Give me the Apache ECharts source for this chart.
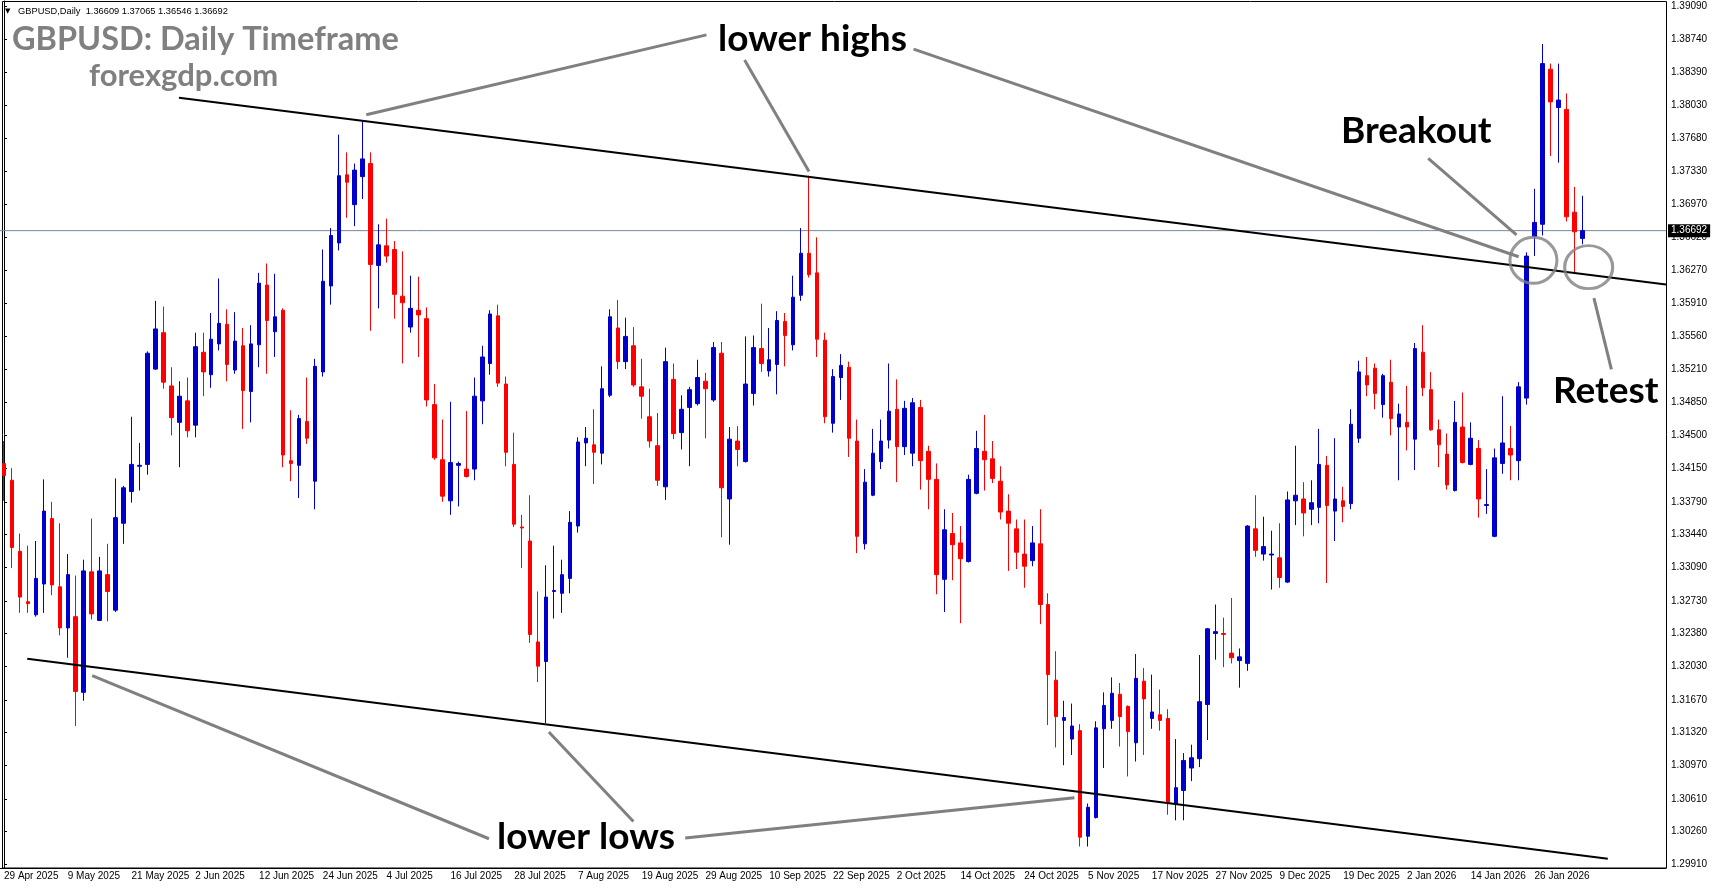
<!DOCTYPE html>
<html>
<head>
<meta charset="utf-8">
<title>GBPUSD Daily</title>
<script src="https://cdn.jsdelivr.net/npm/echarts@6.0.0/dist/echarts.min.js"></script>
<style>
  html, body { margin: 0; padding: 0; background: #fff; }
  #chart { width: 1713px; height: 888px; }
</style>
</head>
<body>
<div id="chart"></div>
<script>
// daily bars, 29 Apr 2025 .. 3 Feb 2026
const opens = [
  1.3420, 1.3402, 1.3326, 1.3272, 1.3258, 1.3291, 1.3361, 1.3288, 1.3244, 1.3256,
  1.3175, 1.3304, 1.3252, 1.3301, 1.3263, 1.3356, 1.3390, 1.3417, 1.3419, 1.3521,
  1.3560, 1.3503, 1.3464, 1.3487, 1.3461, 1.3539, 1.3515, 1.3548, 1.3569, 1.3520,
  1.3546, 1.3497, 1.3547, 1.3611, 1.3561, 1.3584, 1.3423, 1.3418, 1.3465, 1.3401,
  1.3518, 1.3610, 1.3656, 1.3729, 1.3697, 1.3727, 1.3741, 1.3632, 1.3653, 1.3649,
  1.3599, 1.3566, 1.3584, 1.3575, 1.3483, 1.3424, 1.3380, 1.3418, 1.3414, 1.3414,
  1.3487, 1.3527, 1.3578, 1.3505, 1.3419, 1.3352, 1.3337, 1.3229, 1.3208, 1.3283,
  1.3281, 1.3297, 1.3353, 1.3442, 1.3440, 1.3431, 1.3493, 1.3565, 1.3529, 1.3546,
  1.3502, 1.3470, 1.3439, 1.3395, 1.3510, 1.3453, 1.3480, 1.3484, 1.3508, 1.3488,
  1.3538, 1.3382, 1.3444, 1.3422, 1.3495, 1.3543, 1.3519, 1.3526, 1.3572, 1.3547,
  1.3600, 1.3645, 1.3624, 1.3552, 1.3463, 1.3512, 1.3523, 1.3444, 1.3334, 1.3386,
  1.3422, 1.3445, 1.3478, 1.3438, 1.3431, 1.3480, 1.3433, 1.3403, 1.3296, 1.3345,
  1.3335, 1.3315, 1.3388, 1.3433, 1.3425, 1.3401, 1.3369, 1.3350, 1.3323, 1.3316,
  1.3334, 1.3269, 1.3188, 1.3145, 1.3125, 1.3134, 1.3021, 1.3041, 1.3136, 1.3145,
  1.3173, 1.3160, 1.3121, 1.3187, 1.3147, 1.3151, 1.3147, 1.3056, 1.3070, 1.3094,
  1.3104, 1.3162, 1.3238, 1.3238, 1.3217, 1.3209, 1.3206, 1.3350, 1.3323, 1.3322,
  1.3319, 1.3293, 1.3380, 1.3382, 1.3371, 1.3373, 1.3418, 1.3369, 1.3380, 1.3377,
  1.3447, 1.3514, 1.3522, 1.3483, 1.3507, 1.3459, 1.3464, 1.3446, 1.3539, 1.3499,
  1.3456, 1.3430, 1.3391, 1.3459, 1.3419, 1.3436, 1.3375, 1.3342, 1.3420, 1.3436,
  1.3423, 1.3490, 1.3663, 1.3676, 1.3842, 1.3801, 1.3799, 1.3689, 1.36609
];
const highs = [
  1.3444, 1.3415, 1.3345, 1.3332, 1.3337, 1.3403, 1.3379, 1.3356, 1.3323, 1.3300,
  1.3317, 1.3361, 1.3320, 1.3334, 1.3404, 1.3396, 1.3470, 1.3442, 1.3540, 1.3594,
  1.3588, 1.3523, 1.3508, 1.3512, 1.3560, 1.3560, 1.3581, 1.3618, 1.3585, 1.3582,
  1.3565, 1.3568, 1.3624, 1.3634, 1.3623, 1.3586, 1.3477, 1.3472, 1.3512, 1.3532,
  1.3649, 1.3672, 1.3772, 1.3753, 1.3741, 1.3787, 1.3753, 1.3676, 1.3682, 1.3658,
  1.3647, 1.3621, 1.3620, 1.3587, 1.3505, 1.3467, 1.3486, 1.3422, 1.3476, 1.3512,
  1.3546, 1.3584, 1.3590, 1.3513, 1.3453, 1.3365, 1.3386, 1.3283, 1.3311, 1.3332,
  1.3317, 1.3369, 1.3448, 1.3459, 1.3478, 1.3524, 1.3585, 1.3595, 1.3576, 1.3566,
  1.3532, 1.3500, 1.3474, 1.3544, 1.3527, 1.3493, 1.3502, 1.3531, 1.3517, 1.3550,
  1.3550, 1.3459, 1.3460, 1.3556, 1.3557, 1.3591, 1.3565, 1.3583, 1.3581, 1.3621,
  1.3672, 1.3728, 1.3662, 1.3560, 1.3521, 1.3537, 1.3529, 1.3467, 1.3414, 1.3457,
  1.3467, 1.3527, 1.3510, 1.3487, 1.3490, 1.3488, 1.3439, 1.3420, 1.3371, 1.3367,
  1.3353, 1.3408, 1.3455, 1.3472, 1.3444, 1.3417, 1.3387, 1.3360, 1.3360, 1.3353,
  1.3371, 1.3281, 1.3219, 1.3166, 1.3163, 1.3141, 1.3056, 1.3144, 1.3175, 1.3191,
  1.3185, 1.3161, 1.3216, 1.3201, 1.3194, 1.3178, 1.3157, 1.3125, 1.3110, 1.3119,
  1.3215, 1.3244, 1.3269, 1.3255, 1.3276, 1.3222, 1.3354, 1.3386, 1.3363, 1.3348,
  1.3356, 1.3390, 1.3439, 1.3400, 1.3402, 1.3457, 1.3428, 1.3447, 1.3395, 1.3478,
  1.3530, 1.3534, 1.3527, 1.3516, 1.3531, 1.3484, 1.3503, 1.3549, 1.3568, 1.3518,
  1.3467, 1.3452, 1.3487, 1.3496, 1.3464, 1.3445, 1.3414, 1.3436, 1.3492, 1.3460,
  1.3507, 1.3646, 1.3714, 1.3869, 1.3848, 1.3848, 1.3816, 1.3716, 1.37065
];
const lows = [
  1.3380, 1.3308, 1.3260, 1.3260, 1.3256, 1.3260, 1.3279, 1.3236, 1.3212, 1.3139,
  1.3166, 1.3253, 1.3252, 1.3251, 1.3261, 1.3334, 1.3378, 1.3391, 1.3408, 1.3520,
  1.3500, 1.3450, 1.3416, 1.3448, 1.3448, 1.3492, 1.3501, 1.3541, 1.3508, 1.3516,
  1.3457, 1.3464, 1.3523, 1.3516, 1.3534, 1.3416, 1.3401, 1.3383, 1.3441, 1.3371,
  1.3513, 1.3590, 1.3648, 1.3683, 1.3674, 1.3703, 1.3562, 1.3586, 1.3635, 1.3575,
  1.3527, 1.3560, 1.3534, 1.3481, 1.3424, 1.3379, 1.3365, 1.3374, 1.3405, 1.3402,
  1.3462, 1.3515, 1.3502, 1.3417, 1.3352, 1.3308, 1.3228, 1.3186, 1.3142, 1.3254,
  1.3260, 1.3281, 1.3346, 1.3417, 1.3398, 1.3419, 1.3491, 1.3521, 1.3521, 1.3502,
  1.3468, 1.3437, 1.3396, 1.3381, 1.3446, 1.3435, 1.3417, 1.3482, 1.3447, 1.3486,
  1.3341, 1.3333, 1.3417, 1.3421, 1.3482, 1.3518, 1.3513, 1.3494, 1.3524, 1.3541,
  1.3594, 1.3619, 1.3534, 1.3463, 1.3453, 1.3488, 1.3427, 1.3324, 1.3328, 1.3385,
  1.3414, 1.3436, 1.3400, 1.3429, 1.3417, 1.3392, 1.3371, 1.3280, 1.3261, 1.3295,
  1.3249, 1.3314, 1.3387, 1.3391, 1.3399, 1.3360, 1.3305, 1.3307, 1.3287, 1.3310,
  1.3248, 1.3140, 1.3116, 1.3097, 1.3108, 1.3010, 1.3010, 1.3040, 1.3094, 1.3136,
  1.3117, 1.3085, 1.3101, 1.3108, 1.3136, 1.3134, 1.3044, 1.3038, 1.3038, 1.3080,
  1.3095, 1.3124, 1.3210, 1.3202, 1.3206, 1.3180, 1.3198, 1.3320, 1.3316, 1.3285,
  1.3287, 1.3292, 1.3354, 1.3342, 1.3354, 1.3356, 1.3292, 1.3337, 1.3357, 1.3371,
  1.3442, 1.3492, 1.3478, 1.3469, 1.3450, 1.3402, 1.3434, 1.3413, 1.3492, 1.3455,
  1.3416, 1.3392, 1.3390, 1.3420, 1.3418, 1.3362, 1.3366, 1.3341, 1.3409, 1.3402,
  1.3402, 1.3483, 1.3642, 1.3664, 1.3749, 1.3742, 1.3679, 1.3625, 1.36546
];
const closes = [
  1.3407, 1.3330, 1.3277, 1.3270, 1.3297, 1.3369, 1.3290, 1.3244, 1.3301, 1.3176,
  1.3305, 1.3259, 1.3305, 1.3283, 1.3362, 1.3394, 1.3419, 1.3418, 1.3538, 1.3564,
  1.3507, 1.3469, 1.3492, 1.3455, 1.3545, 1.3518, 1.3553, 1.3570, 1.3526, 1.3551,
  1.3498, 1.3548, 1.3613, 1.3573, 1.3577, 1.3429, 1.3420, 1.3468, 1.3447, 1.3524,
  1.3615, 1.3664, 1.3728, 1.3721, 1.3734, 1.3746, 1.3633, 1.3654, 1.3642, 1.3601,
  1.3592, 1.3586, 1.3579, 1.3488, 1.3426, 1.3385, 1.3421, 1.3420, 1.3406, 1.3492,
  1.3534, 1.3580, 1.3506, 1.3432, 1.3355, 1.3351, 1.3237, 1.3203, 1.3277, 1.3284,
  1.3301, 1.3357, 1.3443, 1.3447, 1.3432, 1.3500, 1.3577, 1.3529, 1.3556, 1.3504,
  1.3492, 1.3444, 1.3402, 1.3529, 1.3452, 1.3478, 1.3499, 1.3512, 1.3500, 1.3544,
  1.3394, 1.3446, 1.3435, 1.3505, 1.3544, 1.3527, 1.3531, 1.3573, 1.3557, 1.3598,
  1.3645, 1.3622, 1.3553, 1.3470, 1.3513, 1.3525, 1.3447, 1.3342, 1.3400, 1.3431,
  1.3444, 1.3476, 1.3438, 1.3479, 1.3485, 1.3423, 1.3403, 1.3301, 1.3349, 1.3333,
  1.3318, 1.3403, 1.3436, 1.3424, 1.3404, 1.3368, 1.3356, 1.3325, 1.3310, 1.3335,
  1.3269, 1.3194, 1.3149, 1.3148, 1.3139, 1.3020, 1.3052, 1.3137, 1.3161, 1.3174,
  1.3149, 1.3133, 1.3190, 1.3168, 1.3154, 1.3145, 1.3057, 1.3073, 1.3102, 1.3105,
  1.3165, 1.3243, 1.3240, 1.3237, 1.3212, 1.3213, 1.3353, 1.3327, 1.3331, 1.3323,
  1.3298, 1.3381, 1.3386, 1.3367, 1.3378, 1.3419, 1.3375, 1.3382, 1.3374, 1.3462,
  1.3518, 1.3504, 1.3495, 1.3514, 1.3468, 1.3473, 1.3459, 1.3543, 1.3501, 1.3456,
  1.3440, 1.3397, 1.3464, 1.3421, 1.3447, 1.3382, 1.3376, 1.3426, 1.3442, 1.3429,
  1.3502, 1.3642, 1.3678, 1.3848, 1.3807, 1.3809, 1.3684, 1.3668, 1.36692
];

// price scale labels on the right
const yTicks = [
  1.29910, 1.30260, 1.30610, 1.30970, 1.31320, 1.31670, 1.32030, 1.32380, 1.32730,
  1.33090, 1.33440, 1.33790, 1.34150, 1.34500, 1.34850, 1.35210, 1.35560, 1.35910,
  1.36270, 1.36620, 1.36970, 1.37330, 1.37680, 1.38030, 1.38390, 1.38740, 1.39090
];
const lastPrice = 1.36692;

// calendar: weekdays from the first bar, broker has no bar on these days
const firstDay = [2025, 3, 29];
const skipDays = ['2025-12-25', '2026-01-01'];
const emptySlots = 10; // chart shift on the right

// drawn objects, in [bar index, price]
const upperTrend = [[21.95, 1.38115], [208.5, 1.36116]];
const lowerTrend = [[2.92, 1.32110], [201.2, 1.29969]];
const pointers = [
  [[88.13, 1.38787], [45.45, 1.37933]],
  [[92.91, 1.38518], [100.99, 1.37325]],
  [[114.11, 1.38635], [190.02, 1.36413]],
  [[178.67, 1.37465], [189.75, 1.36647]],
  [[199.46, 1.35969], [201.65, 1.35208]],
  [[60.84, 1.30183], [11.06, 1.31928]],
  [[78.96, 1.30367], [68.35, 1.31326]],
  [[85.46, 1.30192], [134.29, 1.30621]]
];
const rings = [
  { value: [191.87, 1.36374], symbolSize: [47, 46] },
  { value: [198.8, 1.36301], symbolSize: [48, 43] }
];

const months = ['Jan', 'Feb', 'Mar', 'Apr', 'May', 'Jun', 'Jul', 'Aug', 'Sep', 'Oct', 'Nov', 'Dec'];

function buildDates(count) {
  const out = [];
  const d = new Date(Date.UTC(firstDay[0], firstDay[1], firstDay[2]));
  while (out.length < count) {
    const wd = d.getUTCDay();
    const iso = d.toISOString().slice(0, 10);
    if (wd !== 0 && wd !== 6 && skipDays.indexOf(iso) < 0) {
      out.push(d.getUTCDate() + ' ' + months[d.getUTCMonth()] + ' ' + d.getUTCFullYear());
    }
    d.setUTCDate(d.getUTCDate() + 1);
  }
  return out;
}

const dates = buildDates(opens.length);
const categories = dates.concat(new Array(emptySlots).fill(''));
const candles = opens.map((o, i) => [o, closes[i], lows[i], highs[i]]);

const axisFont = 'Liberation Sans, Arial, sans-serif';
const noteFont = 'Lato, Noto Sans, sans-serif';
const showEvery8 = (idx, val) => idx % 8 === 0 && val !== '';

function segment(points, color, width, z) {
  return {
    type: 'line',
    xAxisIndex: 1,
    yAxisIndex: 0,
    data: points,
    symbol: 'none',
    silent: true,
    z: z || 4,
    lineStyle: { color: color, width: width, type: 'solid' }
  };
}

function note(text, x, y) {
  return {
    type: 'text',
    x: x,
    y: y,
    silent: true,
    z: 10,
    style: {
      text: text,
      fill: '#000',
      fontFamily: noteFont,
      fontWeight: 'bold',
      fontSize: 37,
      align: 'left',
      verticalAlign: 'middle'
    }
  };
}

// bid line across the whole plot, with its price box on the scale
const bidLine = segment([[-0.5, lastPrice], [categories.length - 0.5, lastPrice]], '#778899', 1, 2);
bidLine.endLabel = {
  show: true,
  distance: 2,
  formatter: () => lastPrice.toFixed(5),
  backgroundColor: '#000',
  color: '#fff',
  padding: [2, 3, 1, 3],
  fontFamily: axisFont,
  fontSize: 10
};

const chart = echarts.init(document.getElementById('chart'), null, { renderer: 'canvas' });

chart.setOption({
  animation: false,
  backgroundColor: '#fff',
  grid: { left: 0, top: 1, width: 1666, height: 867 },
  xAxis: [
    {
      type: 'category',
      data: categories,
      boundaryGap: true,
      axisLine: { lineStyle: { color: '#000', width: 1 } },
      axisTick: {
        alignWithLabel: true,
        interval: showEvery8,
        length: 4,
        lineStyle: { color: '#000' }
      },
      axisLabel: {
        interval: showEvery8,
        align: 'left',
        margin: 3,
        color: '#000',
        fontFamily: axisFont,
        fontSize: 10
      },
      splitLine: { show: false }
    },
    {
      type: 'value',
      min: -0.5,
      max: categories.length - 0.5,
      show: false
    }
  ],
  yAxis: {
    type: 'value',
    position: 'right',
    min: 1.2987,
    max: 1.3915,
    axisLine: { show: true, lineStyle: { color: '#000', width: 1 } },
    axisTick: {
      show: true,
      customValues: yTicks,
      length: 3,
      lineStyle: { color: '#000' }
    },
    axisLabel: {
      customValues: yTicks,
      formatter: v => v.toFixed(5),
      margin: 5,
      color: '#000',
      fontFamily: axisFont,
      fontSize: 10
    },
    splitLine: { show: false }
  },
  graphic: [
    {
      type: 'rect',
      silent: true,
      z: 0,
      shape: { x: 2.5, y: 1.5, width: 1664, height: 866.5 },
      style: { fill: 'none', stroke: '#000', lineWidth: 1 }
    },
    {
      type: 'text', x: 5, y: 11, silent: true,
      style: { text: '▼', fill: '#000', fontFamily: 'DejaVu Sans', fontSize: 7, verticalAlign: 'middle' }
    },
    {
      type: 'text', x: 18, y: 11, silent: true,
      style: {
        text: 'GBPUSD,Daily  1.36609 1.37065 1.36546 1.36692',
        fill: '#000', fontFamily: axisFont, fontSize: 9.3, verticalAlign: 'middle'
      }
    },
    {
      type: 'text', x: 12, y: 40, silent: true, z: 10,
      style: {
        text: 'GBPUSD: Daily Timeframe',
        fill: '#808080', fontFamily: noteFont, fontWeight: 'bold', fontSize: 32.5,
        verticalAlign: 'middle'
      }
    },
    {
      type: 'text', x: 89, y: 76, silent: true, z: 10,
      style: {
        text: 'forexgdp.com',
        fill: '#808080', fontFamily: noteFont, fontWeight: 'bold', fontSize: 31,
        verticalAlign: 'middle'
      }
    },
    note('lower highs', 718, 39),
    note('Breakout', 1341, 131),
    note('Retest', 1553, 391),
    note('lower lows', 497, 837)
  ],
  series: [
    {
      type: 'candlestick',
      xAxisIndex: 0,
      yAxisIndex: 0,
      data: candles,
      barWidth: 4,
      z: 3,
      itemStyle: {
        color: '#0000cc',
        color0: '#ff0000',
        borderColor: '#0000cc',
        borderColor0: '#ff0000',
        borderWidth: 1
      }
    },
    bidLine,
    segment(upperTrend, '#000', 2),
    segment(lowerTrend, '#000', 2)
  ].concat(pointers.map(p => segment(p, '#808080', 3))).concat([
    {
      type: 'scatter',
      xAxisIndex: 1,
      yAxisIndex: 0,
      silent: true,
      z: 5,
      symbol: 'circle',
      data: rings,
      itemStyle: { color: 'rgba(0,0,0,0)', borderColor: '#808080', borderWidth: 3 }
    }
  ])
});
</script>
</body>
</html>
